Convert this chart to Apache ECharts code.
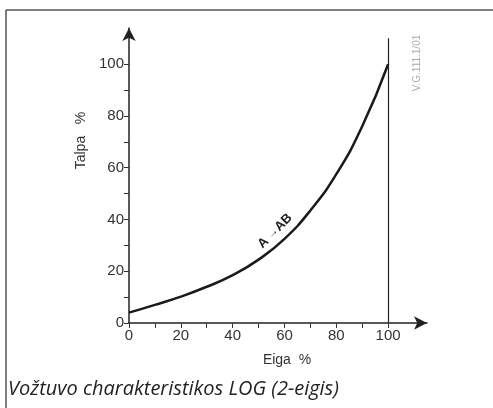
<!DOCTYPE html>
<html>
<head>
<meta charset="UTF-8">
<title>LOG</title>
<script type="text/javascript" src="https://cdn.jsdelivr.net/npm/echarts@6/dist/echarts.min.js"></script>
<style>
  html, body { margin: 0; padding: 0; background: #fff; }
  #main { width: 493px; height: 408px; }
</style>
</head>
<body>
<div id="main"></div>
<script type="text/javascript">
// eiga (x) ir talpa (y), nuskaityta nuo paveikslo
var eiga = [0, 10, 20, 30, 40, 50, 60, 70, 80, 90, 100];
var talpa = [4, 7, 10.2, 14, 18.5, 24.5, 32.5, 43.5, 57.5, 76, 100];
var tickVals = [0, 10, 20, 30, 40, 50, 60, 70, 80, 90, 100];
var labelVals = [0, 20, 40, 60, 80, 100];
var riba = [[100, 0], [100, 110]];

var chart = echarts.init(document.getElementById('main'));

var font = 'Liberation Sans';

function axis(max) {
  return {
    type: 'value',
    min: 0,
    max: max,
    splitLine: { show: false },
    axisLine: {
      lineStyle: { color: '#222', width: 1.5 },
      symbol: ['none', 'arrow'],
      symbolSize: [10, 13]
    },
    axisTick: { customValues: tickVals, length: 5, lineStyle: { color: '#333', width: 1 } },
    axisLabel: { customValues: labelVals, color: '#333', fontSize: 15, fontFamily: font, margin: 5 }
  };
}

var xAx = axis(115);
xAx.name = 'Eiga  %';
xAx.nameLocation = 'middle';
xAx.nameGap = 30;
xAx.nameTextStyle = { color: '#333', fontSize: 14, fontFamily: font, padding: [0, 0, 0, 18] };

var yAx = axis(114);
yAx.name = 'Talpa   %';
yAx.nameLocation = 'middle';
yAx.nameGap = 36;
yAx.nameTextStyle = { color: '#333', fontSize: 14, fontFamily: font, padding: [0, 0, 0, 70] };

var option = {
  animation: false,
  grid: { left: 129, right: 66, top: 28, bottom: 85 },
  xAxis: xAx,
  yAxis: yAx,
  series: [{
    type: 'line',
    smooth: true,
    symbol: 'none',
    data: eiga.map(function (x, i) { return [x, talpa[i]]; }),
    lineStyle: { color: '#1a1a1a', width: 2.5 },
    markLine: {
      silent: true,
      symbol: 'none',
      label: { show: false },
      lineStyle: { color: '#222', width: 1.2, type: 'solid' },
      data: [[{ coord: riba[0] }, { coord: riba[1] }]]
    }
  }],
  graphic: [
    { type: 'line', shape: { x1: 6, y1: 10, x2: 493, y2: 10 }, style: { stroke: '#555', lineWidth: 1.5 } },
    { type: 'line', shape: { x1: 6, y1: 10, x2: 6, y2: 408 }, style: { stroke: '#555', lineWidth: 1.5 } },
    {
      type: 'text', x: 275, y: 231, rotation: Math.PI / 4,
      style: {
        text: 'A {a|\u2192}AB', fill: '#222', font: 'bold 13px Liberation Sans', align: 'center', verticalAlign: 'middle',
        rich: { a: { fontSize: 11, fontWeight: 'bold', fill: '#222' } }
      }
    },
    {
      type: 'text', x: 417, y: 63, rotation: Math.PI / 2,
      style: { text: 'V.G.111.1/01', fill: '#aaa', font: '10px Liberation Sans', align: 'center', verticalAlign: 'middle' }
    },
    {
      type: 'text', x: 8, y: 389,
      style: { text: 'Vožtuvo charakteristikos LOG (2-eigis)', fill: '#222', font: 'italic 20px Open Sans', align: 'left', verticalAlign: 'middle' }
    }
  ]
};

chart.setOption(option);
</script>
</body>
</html>
